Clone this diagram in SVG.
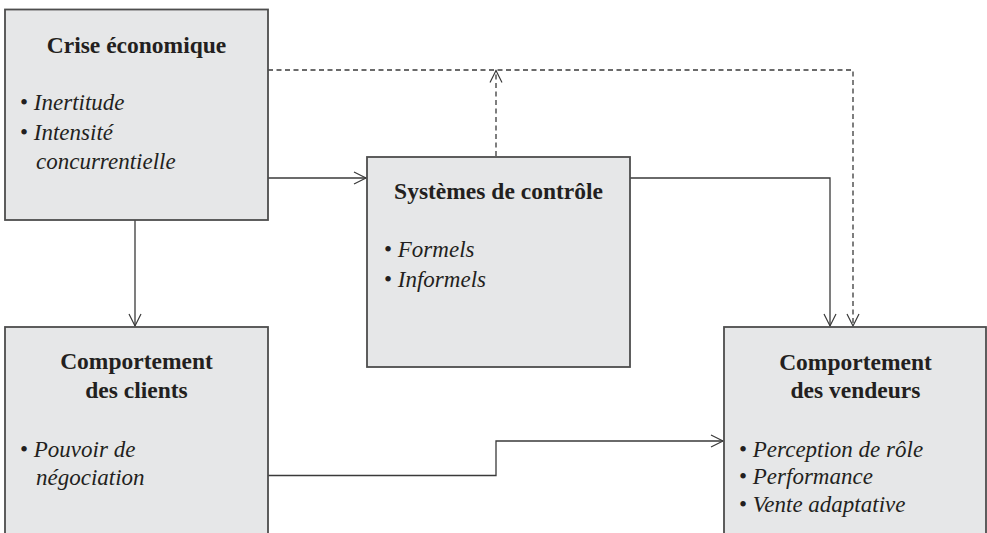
<svg xmlns="http://www.w3.org/2000/svg" width="987" height="533" viewBox="0 0 987 533">
<defs>
<marker id="arr" markerUnits="userSpaceOnUse" markerWidth="14" markerHeight="14" refX="12" refY="6" orient="auto" overflow="visible">
<path d="M0,0 L12,6 L0,12" fill="none" stroke="#3a3a3a" stroke-width="1.2"/>
</marker>
</defs>
<style>
.box{fill:#e6e7e8;stroke:#4d4d4d;stroke-width:1.8}
.t{font-family:"Liberation Serif","Times New Roman",serif;font-weight:bold;font-size:23.5px;fill:#231f20}
.i{font-family:"Liberation Serif","Times New Roman",serif;font-style:italic;font-size:23px;fill:#231f20}
.b{font-family:"Liberation Serif","Times New Roman",serif;font-size:23px;fill:#231f20}
.c{fill:none;stroke:#3a3a3a;stroke-width:1.3}
.d{fill:none;stroke:#3a3a3a;stroke-width:1.3;stroke-dasharray:5,3.5}
</style>
<g id="connectors">
<path class="c" d="M268,178 H366" marker-end="url(#arr)"/>
<path class="c" d="M135,220 V326" marker-end="url(#arr)"/>
<path class="c" d="M630,178 H830 V326" marker-end="url(#arr)"/>
<path class="c" d="M268,475.5 H496 V441 H723" marker-end="url(#arr)"/>
<path class="d" d="M268,70 H853 V326" marker-end="url(#arr)"/>
<path class="d" d="M496,156 V70.5" marker-end="url(#arr)"/>
</g>
<g id="crise">
<rect class="box" x="5" y="9.5" width="263" height="210.5"/>
<text class="t" x="136.5" y="53" text-anchor="middle">Crise économique</text>
<text class="b" x="20" y="110">• <tspan class="i">Inertitude</tspan></text>
<text class="b" x="20" y="140">• <tspan class="i">Intensité</tspan></text>
<text class="i" x="36" y="169">concurrentielle</text>
</g>
<g id="controle">
<rect class="box" x="367" y="157" width="263" height="210"/>
<text class="t" x="498.5" y="199" text-anchor="middle">Systèmes de contrôle</text>
<text class="b" x="384" y="257">• <tspan class="i">Formels</tspan></text>
<text class="b" x="384" y="287">• <tspan class="i">Informels</tspan></text>
</g>
<g id="clients">
<rect class="box" x="5" y="327" width="263" height="215"/>
<text class="t" x="136.5" y="369" text-anchor="middle">Comportement</text>
<text class="t" x="136.5" y="398" text-anchor="middle">des clients</text>
<text class="b" x="20" y="457">• <tspan class="i">Pouvoir de</tspan></text>
<text class="i" x="36" y="485">négociation</text>
</g>
<g id="vendeurs">
<rect class="box" x="724" y="327" width="262" height="215"/>
<text class="t" x="855.5" y="370" text-anchor="middle">Comportement</text>
<text class="t" x="855.5" y="398" text-anchor="middle">des vendeurs</text>
<text class="b" x="739" y="457">• <tspan class="i">Perception de rôle</tspan></text>
<text class="b" x="739" y="484">• <tspan class="i">Performance</tspan></text>
<text class="b" x="739" y="512">• <tspan class="i">Vente adaptative</tspan></text>
</g>
</svg>
